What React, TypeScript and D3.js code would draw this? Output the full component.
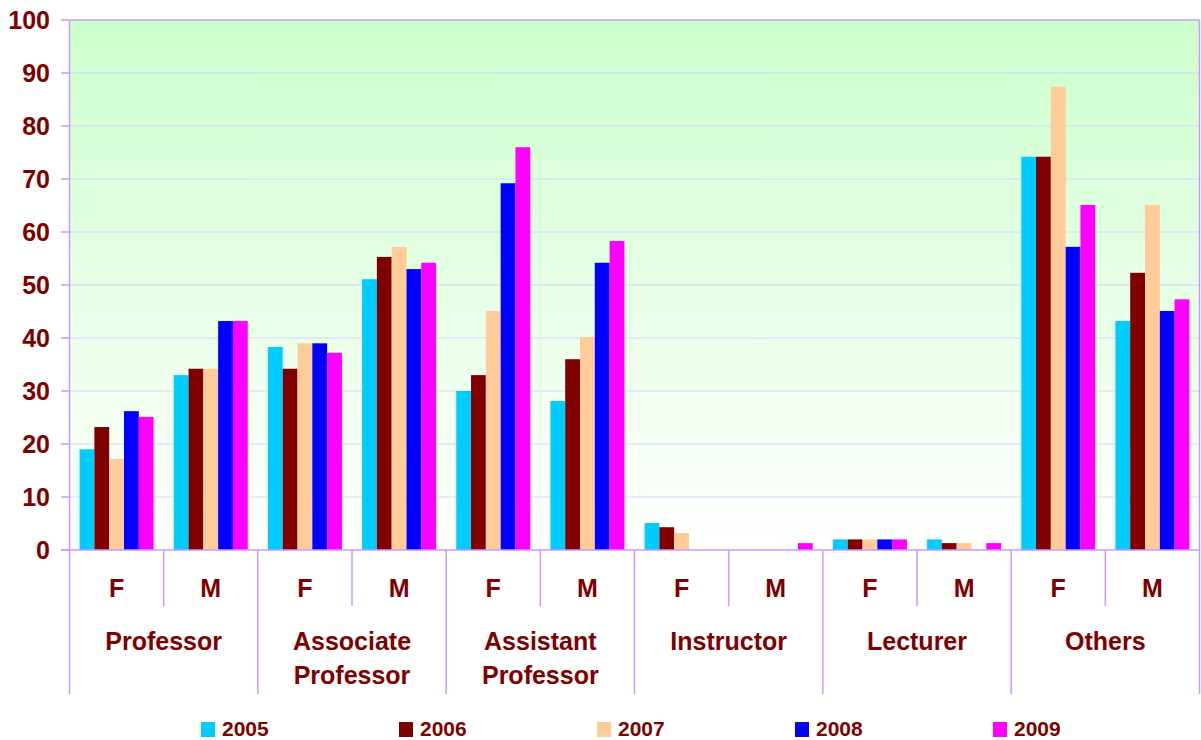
import React from "react";
import * as d3 from "d3";

const groups = ["Professor", "Associate Professor", "Assistant Professor", "Instructor", "Lecturer", "Others"];
const groupLines = [["Professor"], ["Associate", "Professor"], ["Assistant", "Professor"], ["Instructor"], ["Lecturer"], ["Others"]];
const genders = ["F", "M"];
const years = ["2005", "2006", "2007", "2008", "2009"];
const colors = ["#00ccff", "#800000", "#ffcc99", "#0000ff", "#ff00ff"];

// values per sub-category (group x gender), per year
const v2005 = [19, 33, 38.3, 51.1, 30, 28.1, 5.1, 0, 2, 2, 74.2, 43.2];
const v2006 = [23.2, 34.2, 34.2, 55.3, 33, 36, 4.3, 0, 2, 1.3, 74.2, 52.3];
const v2007 = [17.2, 34.2, 39, 57.2, 45.1, 40.2, 3.2, 0, 2, 1.3, 87.4, 65.1];
const v2008 = [26.2, 43.2, 39, 53, 69.2, 54.2, 0, 0, 2, 0, 57.2, 45.1];
const v2009 = [25.1, 43.2, 37.2, 54.2, 76, 58.3, 0, 1.3, 2, 1.3, 65.1, 47.3];
const series = [v2005, v2006, v2007, v2008, v2009];
const yTicks = [0, 10, 20, 30, 40, 50, 60, 70, 80, 90, 100];

const W = 1201, H = 740;
const L = 69.5, R = 1199.5, T = 20, B = 550;
const TEXT = "#800000";
const AXIS = "#cc99ff";
const GRID = "#d9d3fb";
const FONT = "Arial, 'Liberation Sans', sans-serif";

export default function App() {
  const subs = groups.flatMap((g) => genders.map((s) => `${g}|${s}`));
  const x = d3.scaleBand().domain(subs).range([L, R]).padding(0);
  const x1 = d3.scaleBand().domain(years).range([0, x.bandwidth()]).paddingInner(0).paddingOuter(0.68);
  const y = d3.scaleLinear().domain([0, 100]).range([B, T]);
  const gw = x.bandwidth() * 2;

  return (
    <svg width={W} height={H} style={{ position: "absolute", left: 0, top: 0 }} fontFamily={FONT}>
      <defs>
        <linearGradient id="bg" x1="0" y1="0" x2="0" y2="1">
          <stop offset="0%" stopColor="#ccffcc" />
          <stop offset="100%" stopColor="#ffffff" />
        </linearGradient>
      </defs>
      <rect x={L} y={T} width={R - L} height={B - T} fill="url(#bg)" />
      {yTicks.filter((t) => t > 0 && t < 100).map((t) => (
        <line key={t} x1={L} x2={R} y1={y(t)} y2={y(t)} stroke={GRID} strokeWidth={1} />
      ))}
      {series.map((vals, si) =>
        subs.map((s, i) => {
          const v = vals[i];
          if (!v) return null;
          return (
            <rect key={`${si}-${i}`} x={(x(s) as number) + (x1(years[si]) as number)} y={y(v)}
              width={x1.bandwidth()} height={B - y(v)} fill={colors[si]} />
          );
        })
      )}
      {/* frame */}
      <line x1={L} x2={R} y1={T} y2={T} stroke={AXIS} strokeWidth={1.5} />
      <line x1={R} x2={R} y1={T} y2={694} stroke={AXIS} strokeWidth={1.5} />
      <line x1={L} x2={L} y1={T} y2={694} stroke={AXIS} strokeWidth={1.5} />
      <line x1={61} x2={R} y1={B} y2={B} stroke={AXIS} strokeWidth={1.5} />
      {yTicks.map((t) => (
        <g key={t}>
          <line x1={61} x2={L} y1={y(t)} y2={y(t)} stroke={AXIS} strokeWidth={1.5} />
          <text x={50} y={y(t)} dy="0.36em" textAnchor="end" fontSize={25} fontWeight="bold" fill={TEXT}>{t}</text>
        </g>
      ))}
      {subs.map((s, i) => {
        const xs = x(s) as number;
        const isGroupStart = i % 2 === 0;
        return (
          <g key={s}>
            {i > 0 && (
              <line x1={xs} x2={xs} y1={B} y2={isGroupStart ? 694 : 606} stroke={AXIS} strokeWidth={1.5} />
            )}
            <text x={xs + x.bandwidth() / 2} y={597} textAnchor="middle" fontSize={25} fontWeight="bold" fill={TEXT}>
              {genders[i % 2]}
            </text>
          </g>
        );
      })}
      {groups.map((g, gi) => {
        const xs = x(`${g}|F`) as number;
        return (
          <text key={g} x={xs + gw / 2} y={650} textAnchor="middle" fontSize={25} fontWeight="bold" fill={TEXT}>
            {groupLines[gi].map((ln, li) => (
              <tspan key={li} x={xs + gw / 2} y={650 + li * 34}>{ln}</tspan>
            ))}
          </text>
        );
      })}
      {years.map((yr, i) => {
        const lx = 201 + i * 198;
        return (
          <g key={yr}>
            <rect x={lx} y={722} width={14} height={15} fill={colors[i]} />
            <text x={lx + 21} y={736} fontSize={21} fontWeight="bold" fill={TEXT}>{yr}</text>
          </g>
        );
      })}
    </svg>
  );
}
